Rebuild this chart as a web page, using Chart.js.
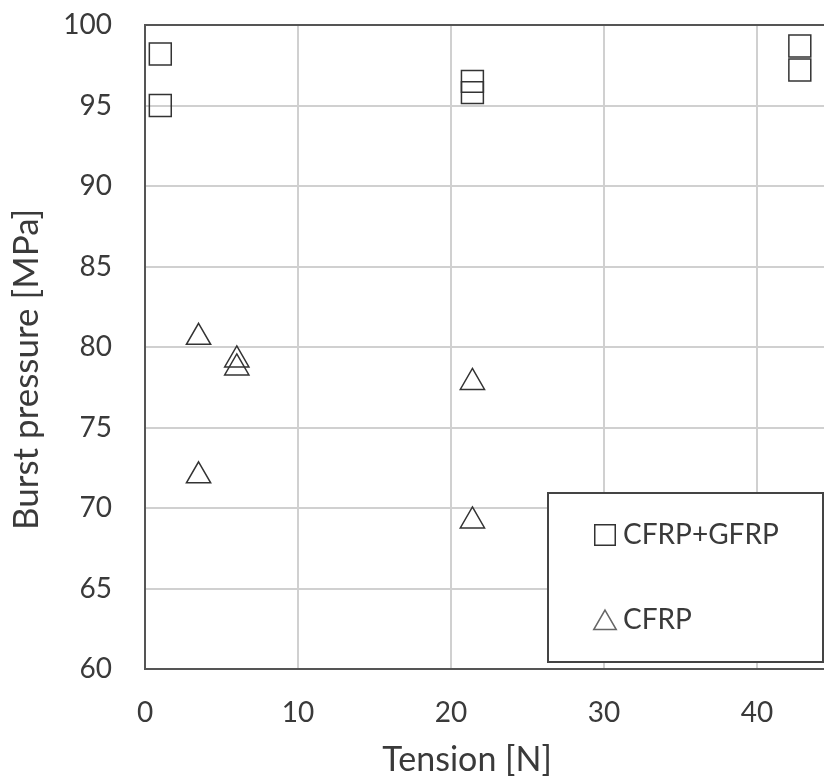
<!DOCTYPE html>
<html>
<head>
<meta charset="utf-8">
<script src="https://cdn.jsdelivr.net/npm/chart.js@4"></script>
<style>
  body { margin: 0; background: #fff; }
  #wrap { width: 824px; height: 781px; position: relative; }
</style>
</head>
<body>
<div id="wrap"><canvas id="myChart"></canvas></div>
<script>
// values
var seriesNames = ['CFRP+GFRP', 'CFRP'];
var hybridTension = [1.0, 1.0, 21.4, 21.4, 42.8, 42.8];
var hybridBurst = [98.2, 95.0, 96.5, 95.8, 98.7, 97.2];
var cfrpTension = [3.5, 3.5, 6.0, 6.0, 21.4, 21.4];
var cfrpBurst = [80.6, 72.0, 79.2, 78.7, 77.8, 69.2];
var xTicks = [0, 10, 20, 30, 40];
var yTicks = [60, 65, 70, 75, 80, 85, 90, 95, 100];

function toPoints(xs, ys) {
    return xs.map(function (x, i) { return { x: x, y: ys[i] }; });
}

var textColor = '#3a3a3a';
var gridColor = '#d0d0d0';
var axisColor = '#555555';

// drop the label overhang so the plot area can run to the edges
function noOverhang(scale) {
    scale.paddingTop = 0;
    scale.paddingBottom = 0;
    scale.paddingLeft = 0;
    scale.paddingRight = 0;
}

// legend box drawn inside the plot, bottom right
var boxLegend = {
    id: 'boxLegend',
    afterDraw: function (chart) {
        var c = chart.ctx;
        c.save();
        c.strokeStyle = '#444';
        c.lineWidth = 2;
        c.fillStyle = '#fff';
        c.fillRect(548, 493, 275, 169);
        c.strokeRect(548, 493, 275, 169);
        var rows = [535, 620];
        chart.data.datasets.forEach(function (ds, i) {
            c.strokeStyle = i === 0 ? '#333' : '#666';
            c.fillStyle = 'rgba(0,0,0,0)';
            c.lineWidth = 1.5;
            Chart.helpers.drawPoint(c, {
                pointStyle: ds.pointStyle,
                radius: i === 0 ? 14.5 : 13,
                rotation: 0,
                borderWidth: 1.5
            }, 605, rows[i] + (i === 1 ? 3 : 0));
            c.fillStyle = textColor;
            c.font = '28px Lato';
            c.textBaseline = 'middle';
            c.textAlign = 'left';
            c.fillText(ds.label, 623, rows[i]);
        });
        c.restore();
    }
};

var ctx = document.getElementById('myChart').getContext('2d');
var myChart = new Chart(ctx, {
    type: 'scatter',
    data: {
        datasets: [{
            label: seriesNames[0],
            data: toPoints(hybridTension, hybridBurst),
            pointStyle: 'rect',
            pointRadius: 15.5,
            borderColor: '#333',
            backgroundColor: 'rgba(0,0,0,0)',
            borderWidth: 1.5
        },
        {
            label: seriesNames[1],
            data: toPoints(cfrpTension, cfrpBurst),
            pointStyle: 'triangle',
            pointRadius: 14,
            borderColor: '#333',
            backgroundColor: 'rgba(0,0,0,0)',
            borderWidth: 1.5
        }]
    },
    options: {
        responsive: true,
        maintainAspectRatio: false,
        animation: false,
        events: [],
        layout: { autoPadding: false, padding: { top: 25, left: 0, right: 0, bottom: 0 } },
        plugins: {
            legend: { display: false },
            tooltip: { enabled: false }
        },
        scales: {
            x: {
                type: 'linear',
                min: 0,
                max: 44.38,
                afterBuildTicks: function (scale) {
                    scale.ticks = xTicks.map(function (v) { return { value: v }; });
                },
                afterFit: function (scale) { scale.height = 112; noOverhang(scale); },
                grid: { color: gridColor, lineWidth: 2, drawTicks: false },
                border: { color: axisColor, width: 2 },
                ticks: {
                    padding: 27,
                    color: textColor,
                    font: { family: 'Lato', size: 28 }
                },
                title: {
                    display: true,
                    text: 'Tension [N]    ',
                    color: textColor,
                    font: { family: 'Lato', size: 34 },
                    padding: { top: 0, bottom: 1 }
                }
            },
            y: {
                min: 60,
                max: 100,
                afterBuildTicks: function (scale) {
                    scale.ticks = yTicks.map(function (v) { return { value: v }; });
                },
                afterFit: function (scale) { scale.width = 145; noOverhang(scale); },
                grid: {
                    lineWidth: 2,
                    drawTicks: false,
                    color: function (c) { return c.tick && c.tick.value === 100 ? axisColor : gridColor; }
                },
                border: { color: axisColor, width: 2 },
                ticks: {
                    padding: 33,
                    color: textColor,
                    font: { family: 'Lato', size: 28 }
                },
                title: {
                    display: true,
                    text: 'Burst pressure [MPa]     ',
                    color: textColor,
                    font: { family: 'Lato', size: 35 },
                    padding: { top: 6, bottom: 0 }
                }
            }
        }
    },
    plugins: [boxLegend]
});
</script>
</body>
</html>
